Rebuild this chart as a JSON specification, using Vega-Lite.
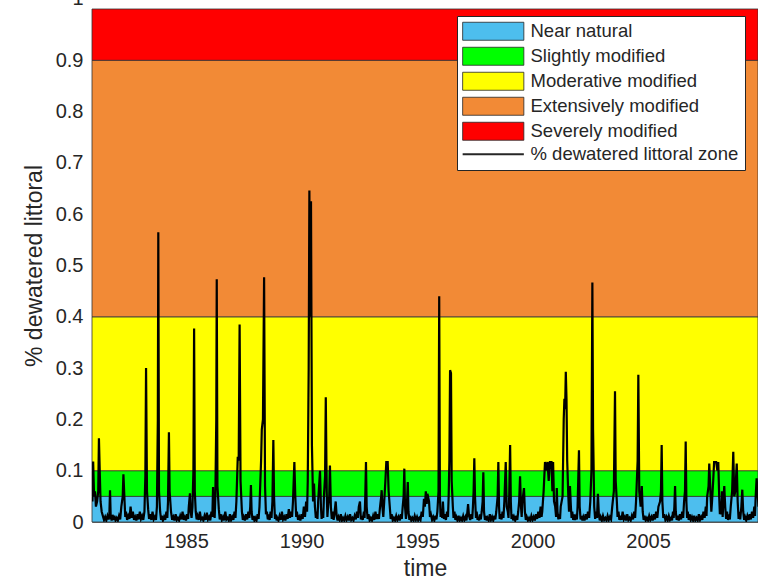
{
  "$schema": "https://vega.github.io/schema/vega-lite/v6.json",
  "width": 666,
  "height": 513,
  "autosize": {"type": "none"},
  "padding": {"left": 92, "top": 9, "right": 0, "bottom": 62},
  "background": "white",
  "config": {
    "view": {"stroke": null},
    "font": "Liberation Sans",
    "axis": {
      "labelFont": "Liberation Sans",
      "titleFont": "Liberation Sans",
      "labelFontSize": 20,
      "titleFontSize": 23,
      "titleFontWeight": "normal",
      "labelColor": "#262626",
      "titleColor": "#262626",
      "domainColor": "#6e6e6e",
      "domainWidth": 1,
      "ticks": false,
      "grid": false
    }
  },
  "datasets": {
    "bands": [
      {"category": "Near natural", "lo": 0, "hi": 0.05},
      {"category": "Slightly modified", "lo": 0.05, "hi": 0.1},
      {"category": "Moderative modified", "lo": 0.1, "hi": 0.4},
      {"category": "Extensively modified", "lo": 0.4, "hi": 0.9},
      {"category": "Severely modified", "lo": 0.9, "hi": 1.0}
    ],
    "series": [
      {"t":1980.95,"v":0.04},{"t":1980.98,"v":0.118},{"t":1981.02,"v":0.05},{"t":1981.06,"v":0.06},{"t":1981.1,"v":0.03},{"t":1981.15,"v":0.04},{"t":1981.2,"v":0.06},{"t":1981.23,"v":0.163},{"t":1981.27,"v":0.09},{"t":1981.3,"v":0.04},{"t":1981.35,"v":0.02},{"t":1981.4,"v":0.012},{"t":1981.45,"v":0.004},{"t":1981.5,"v":0.01},{"t":1981.55,"v":0.003},{"t":1981.6,"v":0.012},{"t":1981.65,"v":0.005},{"t":1981.68,"v":0.012},{"t":1981.71,"v":0.062},{"t":1981.74,"v":0.01},{"t":1981.78,"v":0.003},{"t":1981.82,"v":0.014},{"t":1981.86,"v":0.004},{"t":1981.9,"v":0.012},{"t":1981.95,"v":0.003},
      {"t":1982.0,"v":0.008},{"t":1982.05,"v":0.003},{"t":1982.1,"v":0.012},{"t":1982.15,"v":0.005},{"t":1982.2,"v":0.03},{"t":1982.26,"v":0.05},{"t":1982.29,"v":0.093},{"t":1982.33,"v":0.05},{"t":1982.37,"v":0.01},{"t":1982.4,"v":0.02},{"t":1982.45,"v":0.004},{"t":1982.5,"v":0.012},{"t":1982.55,"v":0.006},{"t":1982.6,"v":0.03},{"t":1982.65,"v":0.008},{"t":1982.7,"v":0.02},{"t":1982.75,"v":0.004},{"t":1982.8,"v":0.01},{"t":1982.85,"v":0.003},{"t":1982.9,"v":0.015},{"t":1982.95,"v":0.005},
      {"t":1983.0,"v":0.02},{"t":1983.05,"v":0.006},{"t":1983.1,"v":0.012},{"t":1983.15,"v":0.004},{"t":1983.2,"v":0.02},{"t":1983.24,"v":0.09},{"t":1983.27,"v":0.30},{"t":1983.31,"v":0.06},{"t":1983.36,"v":0.025},{"t":1983.4,"v":0.006},{"t":1983.45,"v":0.015},{"t":1983.5,"v":0.004},{"t":1983.55,"v":0.02},{"t":1983.6,"v":0.005},{"t":1983.65,"v":0.01},{"t":1983.7,"v":0.004},{"t":1983.74,"v":0.03},{"t":1983.78,"v":0.2},{"t":1983.8,"v":0.565},{"t":1983.83,"v":0.06},{"t":1983.88,"v":0.02},{"t":1983.92,"v":0.004},{"t":1983.95,"v":0.012},
      {"t":1984.0,"v":0.003},{"t":1984.05,"v":0.01},{"t":1984.1,"v":0.004},{"t":1984.15,"v":0.02},{"t":1984.19,"v":0.008},{"t":1984.22,"v":0.04},{"t":1984.26,"v":0.175},{"t":1984.29,"v":0.06},{"t":1984.35,"v":0.02},{"t":1984.4,"v":0.004},{"t":1984.45,"v":0.01},{"t":1984.5,"v":0.003},{"t":1984.55,"v":0.015},{"t":1984.6,"v":0.004},{"t":1984.65,"v":0.008},{"t":1984.7,"v":0.003},{"t":1984.75,"v":0.012},{"t":1984.8,"v":0.005},{"t":1984.85,"v":0.02},{"t":1984.9,"v":0.004},{"t":1984.95,"v":0.01},
      {"t":1985.0,"v":0.003},{"t":1985.05,"v":0.015},{"t":1985.09,"v":0.006},{"t":1985.12,"v":0.03},{"t":1985.17,"v":0.056},{"t":1985.2,"v":0.02},{"t":1985.24,"v":0.008},{"t":1985.28,"v":0.03},{"t":1985.32,"v":0.1},{"t":1985.35,"v":0.377},{"t":1985.38,"v":0.06},{"t":1985.42,"v":0.02},{"t":1985.46,"v":0.005},{"t":1985.5,"v":0.012},{"t":1985.55,"v":0.004},{"t":1985.6,"v":0.02},{"t":1985.65,"v":0.005},{"t":1985.7,"v":0.008},{"t":1985.75,"v":0.003},{"t":1985.8,"v":0.012},{"t":1985.85,"v":0.004},{"t":1985.9,"v":0.018},{"t":1985.95,"v":0.005},
      {"t":1986.0,"v":0.01},{"t":1986.05,"v":0.003},{"t":1986.1,"v":0.02},{"t":1986.14,"v":0.01},{"t":1986.17,"v":0.068},{"t":1986.2,"v":0.02},{"t":1986.24,"v":0.008},{"t":1986.27,"v":0.05},{"t":1986.31,"v":0.2},{"t":1986.33,"v":0.473},{"t":1986.36,"v":0.07},{"t":1986.42,"v":0.025},{"t":1986.46,"v":0.005},{"t":1986.5,"v":0.015},{"t":1986.55,"v":0.004},{"t":1986.6,"v":0.01},{"t":1986.65,"v":0.003},{"t":1986.7,"v":0.02},{"t":1986.75,"v":0.005},{"t":1986.8,"v":0.008},{"t":1986.85,"v":0.003},{"t":1986.9,"v":0.015},{"t":1986.95,"v":0.004},
      {"t":1987.0,"v":0.01},{"t":1987.05,"v":0.004},{"t":1987.1,"v":0.02},{"t":1987.14,"v":0.008},{"t":1987.18,"v":0.04},{"t":1987.24,"v":0.127},{"t":1987.28,"v":0.12},{"t":1987.32,"v":0.385},{"t":1987.36,"v":0.08},{"t":1987.42,"v":0.02},{"t":1987.46,"v":0.004},{"t":1987.5,"v":0.01},{"t":1987.55,"v":0.003},{"t":1987.6,"v":0.015},{"t":1987.65,"v":0.005},{"t":1987.7,"v":0.02},{"t":1987.74,"v":0.008},{"t":1987.78,"v":0.03},{"t":1987.81,"v":0.072},{"t":1987.84,"v":0.02},{"t":1987.88,"v":0.004},{"t":1987.92,"v":0.012},{"t":1987.96,"v":0.003},
      {"t":1988.0,"v":0.008},{"t":1988.05,"v":0.003},{"t":1988.1,"v":0.015},{"t":1988.14,"v":0.006},{"t":1988.18,"v":0.03},{"t":1988.25,"v":0.12},{"t":1988.28,"v":0.18},{"t":1988.33,"v":0.2},{"t":1988.38,"v":0.477},{"t":1988.42,"v":0.07},{"t":1988.46,"v":0.015},{"t":1988.5,"v":0.02},{"t":1988.54,"v":0.005},{"t":1988.58,"v":0.015},{"t":1988.62,"v":0.004},{"t":1988.66,"v":0.02},{"t":1988.7,"v":0.008},{"t":1988.74,"v":0.04},{"t":1988.78,"v":0.16},{"t":1988.81,"v":0.05},{"t":1988.85,"v":0.006},{"t":1988.88,"v":0.015},{"t":1988.92,"v":0.003},{"t":1988.95,"v":0.008},
      {"t":1989.0,"v":0.003},{"t":1989.05,"v":0.012},{"t":1989.1,"v":0.004},{"t":1989.15,"v":0.02},{"t":1989.2,"v":0.005},{"t":1989.25,"v":0.01},{"t":1989.3,"v":0.003},{"t":1989.35,"v":0.015},{"t":1989.4,"v":0.006},{"t":1989.45,"v":0.025},{"t":1989.5,"v":0.008},{"t":1989.55,"v":0.02},{"t":1989.59,"v":0.01},{"t":1989.63,"v":0.04},{"t":1989.69,"v":0.117},{"t":1989.73,"v":0.05},{"t":1989.77,"v":0.01},{"t":1989.8,"v":0.02},{"t":1989.85,"v":0.004},{"t":1989.9,"v":0.01},{"t":1989.95,"v":0.003},
      {"t":1990.0,"v":0.015},{"t":1990.05,"v":0.006},{"t":1990.1,"v":0.03},{"t":1990.15,"v":0.01},{"t":1990.2,"v":0.04},{"t":1990.24,"v":0.02},{"t":1990.27,"v":0.08},{"t":1990.31,"v":0.3},{"t":1990.34,"v":0.646},{"t":1990.37,"v":0.4},{"t":1990.41,"v":0.625},{"t":1990.45,"v":0.15},{"t":1990.5,"v":0.04},{"t":1990.54,"v":0.075},{"t":1990.58,"v":0.03},{"t":1990.62,"v":0.008},{"t":1990.65,"v":0.02},{"t":1990.69,"v":0.006},{"t":1990.72,"v":0.04},{"t":1990.8,"v":0.10},{"t":1990.84,"v":0.03},{"t":1990.87,"v":0.006},{"t":1990.9,"v":0.02},{"t":1990.94,"v":0.008},{"t":1990.97,"v":0.05},
      {"t":1991.02,"v":0.09},{"t":1991.05,"v":0.243},{"t":1991.09,"v":0.06},{"t":1991.12,"v":0.01},{"t":1991.15,"v":0.03},{"t":1991.2,"v":0.05},{"t":1991.23,"v":0.11},{"t":1991.27,"v":0.03},{"t":1991.31,"v":0.006},{"t":1991.35,"v":0.02},{"t":1991.39,"v":0.004},{"t":1991.42,"v":0.015},{"t":1991.48,"v":0.04},{"t":1991.52,"v":0.012},{"t":1991.56,"v":0.003},{"t":1991.6,"v":0.01},{"t":1991.65,"v":0.004},{"t":1991.7,"v":0.015},{"t":1991.75,"v":0.003},{"t":1991.8,"v":0.008},{"t":1991.85,"v":0.003},{"t":1991.9,"v":0.012},{"t":1991.95,"v":0.004},
      {"t":1992.0,"v":0.01},{"t":1992.05,"v":0.003},{"t":1992.1,"v":0.015},{"t":1992.15,"v":0.004},{"t":1992.2,"v":0.008},{"t":1992.25,"v":0.003},{"t":1992.3,"v":0.012},{"t":1992.35,"v":0.005},{"t":1992.4,"v":0.02},{"t":1992.44,"v":0.008},{"t":1992.48,"v":0.03},{"t":1992.53,"v":0.04},{"t":1992.57,"v":0.005},{"t":1992.6,"v":0.012},{"t":1992.65,"v":0.004},{"t":1992.7,"v":0.02},{"t":1992.73,"v":0.008},{"t":1992.76,"v":0.05},{"t":1992.79,"v":0.117},{"t":1992.82,"v":0.03},{"t":1992.86,"v":0.006},{"t":1992.9,"v":0.015},{"t":1992.95,"v":0.003},
      {"t":1993.0,"v":0.008},{"t":1993.05,"v":0.003},{"t":1993.1,"v":0.012},{"t":1993.15,"v":0.004},{"t":1993.2,"v":0.02},{"t":1993.25,"v":0.006},{"t":1993.3,"v":0.015},{"t":1993.35,"v":0.006},{"t":1993.4,"v":0.03},{"t":1993.45,"v":0.05},{"t":1993.47,"v":0.062},{"t":1993.5,"v":0.03},{"t":1993.54,"v":0.01},{"t":1993.58,"v":0.04},{"t":1993.63,"v":0.08},{"t":1993.67,"v":0.117},{"t":1993.73,"v":0.117},{"t":1993.77,"v":0.06},{"t":1993.82,"v":0.03},{"t":1993.86,"v":0.006},{"t":1993.9,"v":0.015},{"t":1993.95,"v":0.003},
      {"t":1994.0,"v":0.008},{"t":1994.05,"v":0.003},{"t":1994.1,"v":0.012},{"t":1994.15,"v":0.004},{"t":1994.2,"v":0.01},{"t":1994.25,"v":0.003},{"t":1994.3,"v":0.015},{"t":1994.34,"v":0.006},{"t":1994.38,"v":0.03},{"t":1994.42,"v":0.05},{"t":1994.45,"v":0.104},{"t":1994.48,"v":0.03},{"t":1994.52,"v":0.006},{"t":1994.55,"v":0.02},{"t":1994.6,"v":0.078},{"t":1994.63,"v":0.02},{"t":1994.67,"v":0.004},{"t":1994.7,"v":0.012},{"t":1994.75,"v":0.003},{"t":1994.8,"v":0.008},{"t":1994.85,"v":0.003},{"t":1994.9,"v":0.012},{"t":1994.95,"v":0.004},
      {"t":1995.0,"v":0.01},{"t":1995.05,"v":0.003},{"t":1995.1,"v":0.008},{"t":1995.15,"v":0.004},{"t":1995.2,"v":0.02},{"t":1995.25,"v":0.01},{"t":1995.3,"v":0.045},{"t":1995.34,"v":0.03},{"t":1995.38,"v":0.06},{"t":1995.42,"v":0.035},{"t":1995.45,"v":0.055},{"t":1995.52,"v":0.04},{"t":1995.56,"v":0.01},{"t":1995.6,"v":0.015},{"t":1995.65,"v":0.004},{"t":1995.7,"v":0.01},{"t":1995.75,"v":0.003},{"t":1995.8,"v":0.012},{"t":1995.84,"v":0.005},{"t":1995.88,"v":0.02},{"t":1995.93,"v":0.06},{"t":1995.96,"v":0.44},{"t":1995.99,"v":0.05},
      {"t":1996.02,"v":0.01},{"t":1996.05,"v":0.02},{"t":1996.09,"v":0.008},{"t":1996.12,"v":0.04},{"t":1996.16,"v":0.006},{"t":1996.2,"v":0.015},{"t":1996.25,"v":0.004},{"t":1996.3,"v":0.02},{"t":1996.34,"v":0.01},{"t":1996.37,"v":0.05},{"t":1996.4,"v":0.12},{"t":1996.43,"v":0.296},{"t":1996.47,"v":0.29},{"t":1996.5,"v":0.08},{"t":1996.55,"v":0.03},{"t":1996.58,"v":0.008},{"t":1996.62,"v":0.02},{"t":1996.66,"v":0.004},{"t":1996.7,"v":0.01},{"t":1996.75,"v":0.003},{"t":1996.8,"v":0.012},{"t":1996.85,"v":0.003},{"t":1996.9,"v":0.008},{"t":1996.95,"v":0.003},
      {"t":1997.0,"v":0.012},{"t":1997.05,"v":0.004},{"t":1997.1,"v":0.01},{"t":1997.14,"v":0.003},{"t":1997.18,"v":0.02},{"t":1997.21,"v":0.035},{"t":1997.25,"v":0.012},{"t":1997.3,"v":0.004},{"t":1997.35,"v":0.015},{"t":1997.39,"v":0.006},{"t":1997.42,"v":0.03},{"t":1997.45,"v":0.06},{"t":1997.48,"v":0.124},{"t":1997.51,"v":0.05},{"t":1997.55,"v":0.008},{"t":1997.58,"v":0.02},{"t":1997.62,"v":0.004},{"t":1997.65,"v":0.01},{"t":1997.69,"v":0.003},{"t":1997.72,"v":0.015},{"t":1997.76,"v":0.005},{"t":1997.8,"v":0.02},{"t":1997.84,"v":0.04},{"t":1997.87,"v":0.097},{"t":1997.9,"v":0.02},{"t":1997.94,"v":0.004},{"t":1997.98,"v":0.012},
      {"t":1998.02,"v":0.003},{"t":1998.05,"v":0.008},{"t":1998.1,"v":0.003},{"t":1998.15,"v":0.015},{"t":1998.2,"v":0.004},{"t":1998.25,"v":0.01},{"t":1998.3,"v":0.003},{"t":1998.35,"v":0.012},{"t":1998.39,"v":0.005},{"t":1998.43,"v":0.02},{"t":1998.49,"v":0.05},{"t":1998.52,"v":0.117},{"t":1998.55,"v":0.03},{"t":1998.58,"v":0.006},{"t":1998.62,"v":0.015},{"t":1998.66,"v":0.005},{"t":1998.7,"v":0.02},{"t":1998.74,"v":0.008},{"t":1998.78,"v":0.04},{"t":1998.84,"v":0.117},{"t":1998.88,"v":0.03},{"t":1998.93,"v":0.02},{"t":1998.96,"v":0.008},{"t":1998.99,"v":0.05},
      {"t":1999.03,"v":0.15},{"t":1999.06,"v":0.04},{"t":1999.09,"v":0.006},{"t":1999.12,"v":0.015},{"t":1999.16,"v":0.003},{"t":1999.2,"v":0.01},{"t":1999.25,"v":0.003},{"t":1999.3,"v":0.012},{"t":1999.34,"v":0.004},{"t":1999.38,"v":0.02},{"t":1999.42,"v":0.04},{"t":1999.46,"v":0.089},{"t":1999.5,"v":0.03},{"t":1999.53,"v":0.01},{"t":1999.56,"v":0.04},{"t":1999.63,"v":0.066},{"t":1999.67,"v":0.02},{"t":1999.71,"v":0.004},{"t":1999.75,"v":0.01},{"t":1999.8,"v":0.003},{"t":1999.85,"v":0.008},{"t":1999.9,"v":0.003},{"t":1999.95,"v":0.012},
      {"t":2000.0,"v":0.004},{"t":2000.05,"v":0.01},{"t":2000.1,"v":0.003},{"t":2000.15,"v":0.015},{"t":2000.2,"v":0.006},{"t":2000.25,"v":0.02},{"t":2000.3,"v":0.008},{"t":2000.35,"v":0.03},{"t":2000.39,"v":0.01},{"t":2000.42,"v":0.02},{"t":2000.48,"v":0.06},{"t":2000.54,"v":0.117},{"t":2000.6,"v":0.1},{"t":2000.65,"v":0.117},{"t":2000.7,"v":0.08},{"t":2000.75,"v":0.117},{"t":2000.82,"v":0.117},{"t":2000.86,"v":0.06},{"t":2000.89,"v":0.117},{"t":2000.93,"v":0.04},{"t":2000.98,"v":0.03},
      {"t":2001.02,"v":0.01},{"t":2001.05,"v":0.066},{"t":2001.08,"v":0.02},{"t":2001.12,"v":0.005},{"t":2001.15,"v":0.015},{"t":2001.19,"v":0.006},{"t":2001.22,"v":0.03},{"t":2001.3,"v":0.05},{"t":2001.35,"v":0.2},{"t":2001.38,"v":0.24},{"t":2001.41,"v":0.22},{"t":2001.44,"v":0.293},{"t":2001.47,"v":0.24},{"t":2001.5,"v":0.12},{"t":2001.55,"v":0.05},{"t":2001.58,"v":0.02},{"t":2001.62,"v":0.07},{"t":2001.66,"v":0.03},{"t":2001.69,"v":0.008},{"t":2001.72,"v":0.02},{"t":2001.76,"v":0.004},{"t":2001.8,"v":0.015},{"t":2001.84,"v":0.004},{"t":2001.88,"v":0.01},{"t":2001.92,"v":0.005},{"t":2001.95,"v":0.03},
      {"t":2002.01,"v":0.14},{"t":2002.04,"v":0.03},{"t":2002.08,"v":0.005},{"t":2002.12,"v":0.012},{"t":2002.16,"v":0.003},{"t":2002.2,"v":0.01},{"t":2002.25,"v":0.003},{"t":2002.3,"v":0.015},{"t":2002.35,"v":0.005},{"t":2002.4,"v":0.02},{"t":2002.45,"v":0.008},{"t":2002.5,"v":0.04},{"t":2002.55,"v":0.1},{"t":2002.59,"v":0.467},{"t":2002.62,"v":0.18},{"t":2002.67,"v":0.03},{"t":2002.71,"v":0.006},{"t":2002.75,"v":0.02},{"t":2002.79,"v":0.008},{"t":2002.83,"v":0.055},{"t":2002.87,"v":0.015},{"t":2002.91,"v":0.003},{"t":2002.95,"v":0.01},
      {"t":2003.0,"v":0.003},{"t":2003.05,"v":0.012},{"t":2003.1,"v":0.004},{"t":2003.15,"v":0.008},{"t":2003.2,"v":0.003},{"t":2003.25,"v":0.012},{"t":2003.3,"v":0.004},{"t":2003.35,"v":0.01},{"t":2003.4,"v":0.005},{"t":2003.45,"v":0.03},{"t":2003.52,"v":0.06},{"t":2003.57,"v":0.255},{"t":2003.6,"v":0.08},{"t":2003.65,"v":0.04},{"t":2003.68,"v":0.01},{"t":2003.72,"v":0.02},{"t":2003.76,"v":0.004},{"t":2003.8,"v":0.012},{"t":2003.85,"v":0.004},{"t":2003.9,"v":0.02},{"t":2003.95,"v":0.005},
      {"t":2004.0,"v":0.01},{"t":2004.05,"v":0.003},{"t":2004.1,"v":0.015},{"t":2004.15,"v":0.004},{"t":2004.2,"v":0.008},{"t":2004.25,"v":0.003},{"t":2004.3,"v":0.012},{"t":2004.35,"v":0.005},{"t":2004.4,"v":0.02},{"t":2004.44,"v":0.008},{"t":2004.48,"v":0.04},{"t":2004.55,"v":0.12},{"t":2004.58,"v":0.287},{"t":2004.62,"v":0.06},{"t":2004.68,"v":0.03},{"t":2004.73,"v":0.07},{"t":2004.77,"v":0.02},{"t":2004.81,"v":0.004},{"t":2004.85,"v":0.012},{"t":2004.9,"v":0.003},{"t":2004.95,"v":0.008},
      {"t":2005.0,"v":0.003},{"t":2005.05,"v":0.012},{"t":2005.1,"v":0.004},{"t":2005.15,"v":0.01},{"t":2005.2,"v":0.003},{"t":2005.25,"v":0.015},{"t":2005.3,"v":0.005},{"t":2005.35,"v":0.02},{"t":2005.4,"v":0.008},{"t":2005.45,"v":0.03},{"t":2005.52,"v":0.04},{"t":2005.56,"v":0.06},{"t":2005.59,"v":0.15},{"t":2005.62,"v":0.04},{"t":2005.66,"v":0.008},{"t":2005.7,"v":0.015},{"t":2005.75,"v":0.004},{"t":2005.8,"v":0.01},{"t":2005.85,"v":0.003},{"t":2005.9,"v":0.012},{"t":2005.95,"v":0.004},
      {"t":2006.0,"v":0.008},{"t":2006.04,"v":0.003},{"t":2006.08,"v":0.02},{"t":2006.11,"v":0.008},{"t":2006.14,"v":0.03},{"t":2006.17,"v":0.07},{"t":2006.2,"v":0.02},{"t":2006.24,"v":0.004},{"t":2006.28,"v":0.012},{"t":2006.33,"v":0.003},{"t":2006.38,"v":0.015},{"t":2006.43,"v":0.005},{"t":2006.48,"v":0.02},{"t":2006.52,"v":0.008},{"t":2006.56,"v":0.04},{"t":2006.6,"v":0.06},{"t":2006.63,"v":0.157},{"t":2006.66,"v":0.04},{"t":2006.69,"v":0.008},{"t":2006.72,"v":0.02},{"t":2006.76,"v":0.004},{"t":2006.8,"v":0.015},{"t":2006.85,"v":0.004},{"t":2006.9,"v":0.01},{"t":2006.95,"v":0.003},
      {"t":2007.0,"v":0.012},{"t":2007.05,"v":0.003},{"t":2007.1,"v":0.008},{"t":2007.15,"v":0.003},{"t":2007.2,"v":0.015},{"t":2007.25,"v":0.004},{"t":2007.3,"v":0.01},{"t":2007.35,"v":0.004},{"t":2007.4,"v":0.02},{"t":2007.45,"v":0.008},{"t":2007.5,"v":0.03},{"t":2007.53,"v":0.012},{"t":2007.56,"v":0.05},{"t":2007.62,"v":0.07},{"t":2007.65,"v":0.114},{"t":2007.7,"v":0.06},{"t":2007.74,"v":0.02},{"t":2007.77,"v":0.04},{"t":2007.82,"v":0.08},{"t":2007.86,"v":0.117},{"t":2007.95,"v":0.117},
      {"t":2008.0,"v":0.1},{"t":2008.04,"v":0.117},{"t":2008.08,"v":0.05},{"t":2008.11,"v":0.015},{"t":2008.13,"v":0.04},{"t":2008.17,"v":0.015},{"t":2008.2,"v":0.06},{"t":2008.23,"v":0.01},{"t":2008.26,"v":0.04},{"t":2008.3,"v":0.07},{"t":2008.34,"v":0.03},{"t":2008.38,"v":0.006},{"t":2008.42,"v":0.02},{"t":2008.46,"v":0.004},{"t":2008.5,"v":0.015},{"t":2008.54,"v":0.005},{"t":2008.58,"v":0.03},{"t":2008.64,"v":0.06},{"t":2008.69,"v":0.137},{"t":2008.73,"v":0.05},{"t":2008.78,"v":0.06},{"t":2008.84,"v":0.114},{"t":2008.88,"v":0.04},{"t":2008.92,"v":0.006},{"t":2008.95,"v":0.02},{"t":2008.99,"v":0.005},
      {"t":2009.04,"v":0.03},{"t":2009.08,"v":0.063},{"t":2009.12,"v":0.02},{"t":2009.16,"v":0.004},{"t":2009.2,"v":0.01},{"t":2009.25,"v":0.003},{"t":2009.3,"v":0.012},{"t":2009.35,"v":0.004},{"t":2009.4,"v":0.015},{"t":2009.45,"v":0.005},{"t":2009.5,"v":0.02},{"t":2009.55,"v":0.008},{"t":2009.6,"v":0.03},{"t":2009.63,"v":0.012},{"t":2009.66,"v":0.05},{"t":2009.7,"v":0.085},{"t":2009.74,"v":0.06},{"t":2009.78,"v":0.03}
    ]
  },
  "layer": [
    {
      "data": {"name": "bands"},
      "mark": {"type": "rect", "stroke": "#333333", "strokeWidth": 0.8},
      "encoding": {
        "y": {
          "field": "lo", "type": "quantitative",
          "scale": {"domain": [0, 1], "nice": false},
          "axis": {
            "title": "% dewatered littoral",
            "values": [0, 0.1, 0.2, 0.3, 0.4, 0.5, 0.6, 0.7, 0.8, 0.9, 1],
            "labelExpr": "datum.value === 0 ? '0' : datum.value === 1 ? '1' : format(datum.value, '.1f')",
            "labelPadding": 9,
            "labelOffset": {"condition": {"test": "datum.value === 1", "value": -11}, "value": 0},
            "titlePadding": 9
          }
        },
        "y2": {"field": "hi"},
        "fill": {
          "field": "category", "type": "nominal",
          "scale": {
            "domain": ["Near natural", "Slightly modified", "Moderative modified", "Extensively modified", "Severely modified", "% dewatered littoral zone"],
            "range": ["#4DBEEE", "#00FF00", "#FFFF00", "#F28A36", "#FF0000", "#000000"]
          },
          "legend": {
            "title": null,
            "orient": "none",
            "legendX": 365,
            "legendY": 7,
            "fillColor": "white",
            "strokeColor": "#262626",
            "padding": 6,
            "cornerRadius": 0,
            "labelFont": "Liberation Sans",
            "labelFontSize": 18.5,
            "labelColor": "#262626",
            "labelOffset": 28,
            "labelLimit": 400,
            "symbolType": "M-3.4,-1H3.4V1H-3.4Z",
            "symbolSize": 324,
            "symbolOffset": 21,
            "symbolStrokeColor": "#262626",
            "symbolStrokeWidth": 0.8,
            "symbolOpacity": 1,
            "rowPadding": 3,
            "encode": {
              "symbols": {
                "update": {
                  "shape": {"signal": "datum.value === '% dewatered littoral zone' ? 'M-3.4,0H3.4' : 'M-3.4,-1H3.4V1H-3.4Z'"},
                  "strokeWidth": {"signal": "datum.value === '% dewatered littoral zone' ? 2 : 0.8"}
                }
              }
            }
          }
        }
      }
    },
    {
      "data": {"name": "series"},
      "mark": {"type": "line", "color": "black", "strokeWidth": 2.2, "clip": true},
      "encoding": {
        "x": {
          "field": "t", "type": "quantitative",
          "scale": {"domain": [1980.93, 2009.76], "nice": false, "zero": false},
          "axis": {
            "title": "time",
            "values": [1985, 1990, 1995, 2000, 2005],
            "format": "d",
            "labelPadding": 9,
            "titlePadding": 6
          }
        },
        "y": {
          "field": "v", "type": "quantitative",
          "scale": {"domain": [0, 1], "nice": false},
          "axis": {
            "title": "% dewatered littoral",
            "values": [0, 0.1, 0.2, 0.3, 0.4, 0.5, 0.6, 0.7, 0.8, 0.9, 1],
            "labelExpr": "datum.value === 0 ? '0' : datum.value === 1 ? '1' : format(datum.value, '.1f')",
            "labelPadding": 9,
            "labelOffset": {"condition": {"test": "datum.value === 1", "value": -11}, "value": 0},
            "titlePadding": 9
          }
        }
      }
    }
  ]
}
